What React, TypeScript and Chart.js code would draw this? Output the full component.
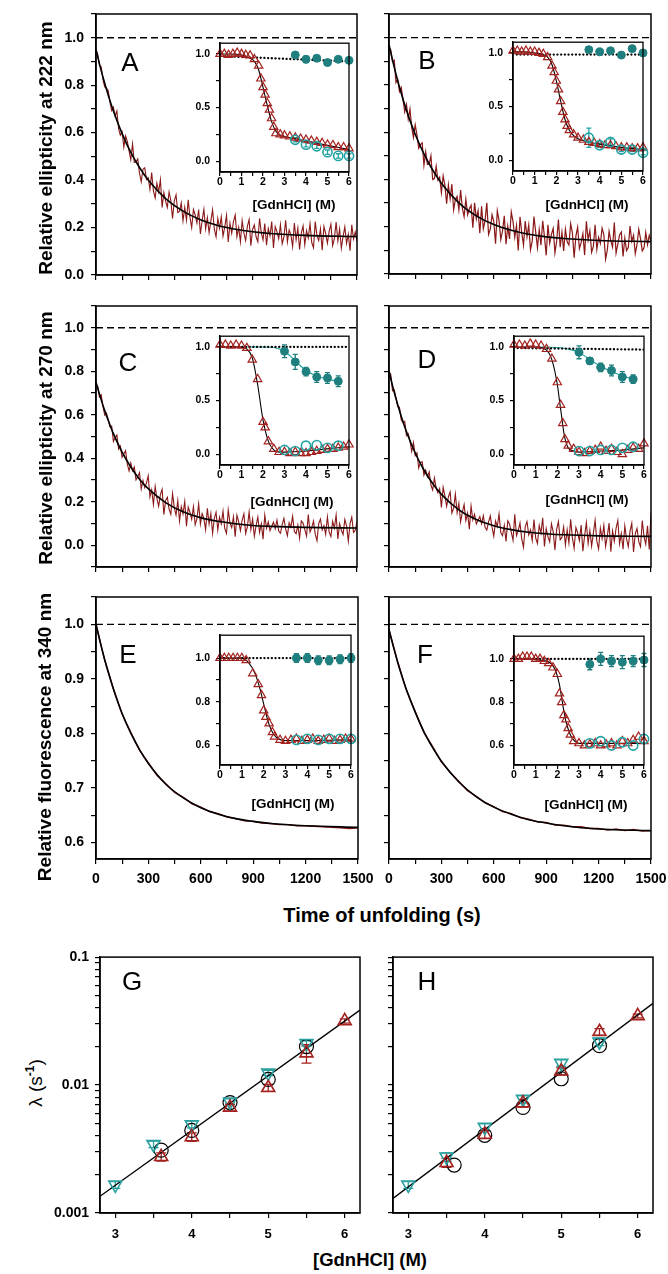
import React, { useEffect, useMemo, useRef } from 'react';
import { Chart, registerables } from 'chart.js';

Chart.register(...registerables);

const FONT = '"Liberation Sans", Arial, Helvetica, sans-serif';
Chart.defaults.font.family = FONT;

// ---------- colours ----------
const TRACE_RED = '#8a1818';
const RED_MARK = '#a3221f';
const TEAL_DARK = '#1f7f7f';
const TEAL_LIGHT = '#22a2a2';
const TEAL_G = '#2a9f9f';
const CLEAR = 'rgba(255,255,255,0)';

// ---------- ticks ----------
const MAIN_X_TICKS = [0, 150, 300, 450, 600, 750, 900, 1050, 1200, 1350, 1500];
const MAIN_X_LABELS = [0, 300, 600, 900, 1200, 1500];
const Y_TICKS_AB = [0, 0.1, 0.2, 0.3, 0.4, 0.5, 0.6, 0.7, 0.8, 0.9, 1.0, 1.1];
const Y_TICKS_CD = [-0.1, 0, 0.1, 0.2, 0.3, 0.4, 0.5, 0.6, 0.7, 0.8, 0.9, 1.0, 1.1];
const Y_LABELS_ABCD = [0, 0.2, 0.4, 0.6, 0.8, 1.0];
const Y_TICKS_EF = [0.6, 0.65, 0.7, 0.75, 0.8, 0.85, 0.9, 0.95, 1.0, 1.05];
const Y_LABELS_EF = [0.6, 0.7, 0.8, 0.9, 1.0];
const INSET_X_TICKS = [0, 0.5, 1, 1.5, 2, 2.5, 3, 3.5, 4, 4.5, 5, 5.5, 6];
const INSET_X_LABELS = [0, 1, 2, 3, 4, 5, 6];
const INSET_Y_TICKS = [0, 0.25, 0.5, 0.75, 1.0];
const INSET_Y_LABELS = [0, 0.5, 1.0];
const INSET_Y_TICKS_EF = [0.6, 0.7, 0.8, 0.9, 1.0];
const INSET_Y_LABELS_EF = [0.6, 0.8, 1.0];
const LOG_Y_TICKS = [0.001, 0.002, 0.003, 0.004, 0.005, 0.006, 0.007, 0.008, 0.009, 0.01, 0.02, 0.03, 0.04, 0.05, 0.06, 0.07, 0.08, 0.09, 0.1];
const LOG_Y_LABELS = [0.001, 0.01, 0.1];
const LOG_X_TICKS = [3, 3.5, 4, 4.5, 5, 5.5, 6];
const LOG_X_LABELS = [3, 4, 5, 6];

// ---------- kinetic traces (time of unfolding, s) ----------
const TRACE_T = Array.from({ length: 151 }, (_, i) => i * 10);
const SMOOTH_T = Array.from({ length: 31 }, (_, i) => i * 50);
const FIT_T = [0, 25, 50, 75, 100, 150, 200, 250, 300, 400, 500, 600, 700, 800, 900, 1000, 1200, 1500];

const A_TRACE = [
  0.950, 0.929, 0.885, 0.877, 0.824, 0.793, 0.788, 0.778, 0.730, 0.693,
  0.707, 0.670, 0.691, 0.616, 0.589, 0.603, 0.539, 0.586, 0.563, 0.523,
  0.485, 0.552, 0.474, 0.477, 0.489, 0.429, 0.393, 0.446, 0.452, 0.402,
  0.410, 0.361, 0.432, 0.354, 0.325, 0.387, 0.350, 0.402, 0.285, 0.348,
  0.311, 0.285, 0.350, 0.314, 0.238, 0.313, 0.338, 0.263, 0.268, 0.304,
  0.228, 0.285, 0.231, 0.317, 0.243, 0.200, 0.276, 0.253, 0.219, 0.276,
  0.173, 0.230, 0.277, 0.194, 0.242, 0.179, 0.227, 0.275, 0.193, 0.161,
  0.239, 0.197, 0.245, 0.164, 0.202, 0.251, 0.139, 0.218, 0.176, 0.225,
  0.253, 0.162, 0.201, 0.140, 0.229, 0.177, 0.146, 0.205, 0.234, 0.123,
  0.192, 0.211, 0.161, 0.140, 0.239, 0.178, 0.148, 0.217, 0.126, 0.196,
  0.165, 0.225, 0.114, 0.204, 0.183, 0.153, 0.212, 0.132, 0.161, 0.231,
  0.140, 0.190, 0.170, 0.119, 0.219, 0.148, 0.198, 0.108, 0.177, 0.207,
  0.127, 0.187, 0.156, 0.216, 0.136, 0.115, 0.225, 0.165, 0.145, 0.195,
  0.105, 0.204, 0.174, 0.134, 0.184, 0.214, 0.124, 0.153, 0.223, 0.143,
  0.194, 0.113, 0.163, 0.203, 0.133, 0.172, 0.102, 0.212, 0.152, 0.182, 0.142,
];
const A_FIT = [0.950, 0.875, 0.808, 0.747, 0.691, 0.596, 0.517, 0.453, 0.400, 0.322, 0.269, 0.233, 0.209, 0.193, 0.182, 0.175, 0.167, 0.162];

const B_TRACE = [
  0.958, 0.949, 0.899, 0.905, 0.810, 0.823, 0.772, 0.789, 0.740, 0.686,
  0.717, 0.655, 0.698, 0.621, 0.578, 0.631, 0.589, 0.532, 0.547, 0.555,
  0.460, 0.517, 0.463, 0.465, 0.500, 0.400, 0.404, 0.456, 0.397, 0.410,
  0.344, 0.415, 0.376, 0.297, 0.377, 0.318, 0.380, 0.272, 0.315, 0.328,
  0.271, 0.355, 0.278, 0.243, 0.317, 0.251, 0.276, 0.291, 0.196, 0.301,
  0.233, 0.268, 0.173, 0.286, 0.191, 0.226, 0.301, 0.167, 0.190, 0.251,
  0.222, 0.128, 0.268, 0.227, 0.146, 0.183, 0.246, 0.126, 0.202, 0.148,
  0.263, 0.222, 0.155, 0.206, 0.100, 0.242, 0.175, 0.122, 0.224, 0.157,
  0.207, 0.102, 0.140, 0.243, 0.177, 0.111, 0.188, 0.122, 0.225, 0.158,
  0.079, 0.208, 0.130, 0.168, 0.193, 0.089, 0.140, 0.230, 0.113, 0.177,
  0.098, 0.189, 0.136, 0.123, 0.213, 0.174, 0.069, 0.160, 0.198, 0.107,
  0.133, 0.171, 0.080, 0.223, 0.144, 0.183, 0.092, 0.117, 0.208, 0.104,
  0.155, 0.129, 0.194, 0.167, 0.063, 0.102, 0.180, 0.140, 0.114, 0.218,
  0.088, 0.126, 0.165, 0.178, 0.074, 0.152, 0.099, 0.112, 0.203, 0.138,
  0.164, 0.086, 0.125, 0.189, 0.150, 0.098, 0.111, 0.176, 0.124, 0.163, 0.137,
];
const B_FIT = [0.970, 0.890, 0.817, 0.752, 0.693, 0.591, 0.508, 0.440, 0.384, 0.301, 0.246, 0.209, 0.185, 0.168, 0.157, 0.150, 0.142, 0.137];

const C_TRACE = [
  0.734, 0.729, 0.682, 0.692, 0.639, 0.599, 0.608, 0.578, 0.545, 0.548,
  0.477, 0.495, 0.507, 0.442, 0.456, 0.404, 0.419, 0.435, 0.373, 0.342,
  0.378, 0.342, 0.360, 0.301, 0.315, 0.334, 0.259, 0.298, 0.265, 0.286,
  0.320, 0.222, 0.255, 0.188, 0.271, 0.215, 0.179, 0.233, 0.257, 0.141,
  0.206, 0.221, 0.166, 0.142, 0.237, 0.173, 0.139, 0.205, 0.111, 0.178,
  0.144, 0.201, 0.088, 0.175, 0.152, 0.119, 0.177, 0.094, 0.122, 0.190,
  0.097, 0.145, 0.123, 0.071, 0.170, 0.098, 0.146, 0.055, 0.123, 0.152,
  0.070, 0.129, 0.098, 0.157, 0.076, 0.054, 0.163, 0.102, 0.081, 0.130,
  0.039, 0.138, 0.107, 0.067, 0.116, 0.145, 0.054, 0.084, 0.153, 0.072,
  0.121, 0.041, 0.090, 0.130, 0.059, 0.099, 0.028, 0.138, 0.078, 0.107,
  0.067, 0.087, 0.106, 0.076, 0.116, 0.065, 0.055, 0.095, 0.124, 0.074,
  0.044, 0.104, 0.083, 0.133, 0.063, 0.053, 0.093, 0.032, 0.112, 0.102,
  0.072, 0.042, 0.141, 0.061, 0.081, 0.111, 0.051, 0.021, 0.100, 0.120,
  0.070, 0.090, 0.050, 0.130, 0.060, 0.040, 0.110, 0.079, 0.139, 0.029,
  0.099, 0.069, 0.049, 0.119, 0.089, 0.019, 0.099, 0.129, 0.059, 0.069, 0.109,
];
const C_FIT = [0.750, 0.681, 0.619, 0.564, 0.513, 0.428, 0.360, 0.304, 0.260, 0.196, 0.154, 0.127, 0.110, 0.099, 0.091, 0.087, 0.082, 0.079];

const D_TRACE = [
  0.796, 0.786, 0.710, 0.715, 0.678, 0.638, 0.635, 0.577, 0.564, 0.569,
  0.504, 0.513, 0.480, 0.431, 0.472, 0.412, 0.425, 0.355, 0.381, 0.384,
  0.322, 0.345, 0.314, 0.337, 0.277, 0.254, 0.309, 0.263, 0.241, 0.261,
  0.174, 0.266, 0.227, 0.179, 0.222, 0.245, 0.148, 0.171, 0.235, 0.149,
  0.193, 0.108, 0.152, 0.187, 0.113, 0.148, 0.074, 0.180, 0.116, 0.142,
  0.098, 0.115, 0.132, 0.099, 0.136, 0.083, 0.070, 0.107, 0.135, 0.082,
  0.042, 0.112, 0.086, 0.144, 0.058, 0.044, 0.091, 0.017, 0.112, 0.098,
  0.060, 0.023, 0.142, 0.044, 0.067, 0.102, 0.029, -0.009, 0.086, 0.109,
  0.048, 0.071, 0.022, 0.118, 0.033, 0.008, 0.091, 0.055, 0.126, -0.006,
  0.077, 0.040, 0.016, 0.099, 0.063, -0.022, 0.074, 0.109, 0.025, 0.036,
  0.084, 0.000, 0.071, 0.011, 0.119, 0.034, -0.014, 0.082, 0.057, 0.021,
  0.093, -0.027, 0.045, 0.104, 0.008, 0.068, -0.004, 0.056, 0.115, 0.019,
  -0.017, 0.079, 0.031, 0.091, -0.005, 0.042, 0.102, -0.030, 0.066, 0.018,
  0.078, 0.114, 0.006, 0.054, -0.018, 0.089, 0.029, -0.007, 0.065, 0.101,
  -0.031, 0.053, 0.077, 0.017, -0.007, 0.113, 0.041, 0.005, 0.089, -0.019, 0.150,
];
const D_FIT = [0.800, 0.718, 0.646, 0.580, 0.522, 0.424, 0.346, 0.284, 0.234, 0.163, 0.118, 0.090, 0.072, 0.060, 0.053, 0.048, 0.043, 0.041];

const E_TRACE = [
  1.000, 0.934, 0.882, 0.835, 0.801, 0.769, 0.746, 0.723, 0.708, 0.692,
  0.683, 0.671, 0.665, 0.657, 0.653, 0.647, 0.644, 0.640, 0.639, 0.636,
  0.635, 0.633, 0.633, 0.631, 0.631, 0.630, 0.629, 0.628, 0.627, 0.626, 0.627,
];
const E_FIT = [1.000, 0.966, 0.935, 0.907, 0.881, 0.836, 0.800, 0.770, 0.745, 0.707, 0.682, 0.664, 0.652, 0.644, 0.639, 0.635, 0.631, 0.628];

const F_TRACE = [
  0.990, 0.931, 0.879, 0.840, 0.802, 0.776, 0.748, 0.729, 0.712, 0.695,
  0.685, 0.673, 0.666, 0.657, 0.653, 0.646, 0.643, 0.638, 0.637, 0.632,
  0.632, 0.629, 0.629, 0.626, 0.626, 0.623, 0.625, 0.622, 0.624, 0.621, 0.622,
];
const F_FIT = [0.990, 0.959, 0.930, 0.904, 0.880, 0.839, 0.803, 0.774, 0.749, 0.711, 0.684, 0.665, 0.652, 0.642, 0.636, 0.631, 0.625, 0.622];

// ---------- equilibrium insets ([GdnHCl], M) ----------
const TEAL_X_AB = [3.5, 4, 4.5, 5, 5.5, 6];
const TEAL_X_CD = [3, 3.5, 4, 4.5, 5, 5.5];

const A_TRI_X = [0, 0.2, 0.4, 0.6, 0.8, 1.0, 1.2, 1.4, 1.6, 1.8, 1.9, 2.0, 2.1, 2.2, 2.3, 2.4, 2.5, 2.6, 2.8, 3.0, 3.25, 3.5, 3.75, 4.0, 4.25, 4.5, 4.75, 5.0, 5.25, 5.5, 5.75, 6.0];
const A_TRI_Y = [1.0, 1.0, 0.99, 1.0, 1.01, 1.0, 0.99, 0.985, 0.95, 0.89, 0.77, 0.69, 0.62, 0.54, 0.48, 0.40, 0.32, 0.26, 0.25, 0.24, 0.23, 0.22, 0.21, 0.20, 0.19, 0.18, 0.17, 0.155, 0.15, 0.13, 0.13, 0.12];
const A_IFIT_X = [0, 0.5, 1.0, 1.3, 1.6, 1.8, 2.0, 2.2, 2.4, 2.6, 2.8, 3.0, 3.5, 4, 5, 6];
const A_IFIT_Y = [1.0, 1.0, 0.99, 0.97, 0.93, 0.85, 0.69, 0.52, 0.37, 0.28, 0.245, 0.23, 0.21, 0.19, 0.15, 0.11];
const A_DOT_Y = [0.98, 0.93];
const A_FILLED_Y = [0.99, 0.95, 0.96, 0.92, 0.95, 0.94];
const A_FILLED_ERR = [0.02, 0.03, 0.02, 0.01, 0.02, 0.02];
const A_OPEN_Y = [0.20, 0.155, 0.14, 0.085, 0.05, 0.05];
const A_OPEN_ERR = [0.02, 0.02, 0.02, 0.02, 0.02, 0.02];

const B_TRI_X = A_TRI_X;
const B_TRI_Y = [1.02, 1.02, 1.01, 1.02, 1.01, 1.01, 1.0, 0.99, 0.96, 0.88, 0.82, 0.74, 0.66, 0.55, 0.45, 0.38, 0.32, 0.28, 0.24, 0.21, 0.19, 0.17, 0.16, 0.15, 0.14, 0.14, 0.13, 0.12, 0.12, 0.11, 0.11, 0.12];
const B_IFIT_X = [0, 0.5, 1.0, 1.3, 1.6, 1.8, 2.0, 2.2, 2.4, 2.6, 2.8, 3.0, 3.5, 4, 5, 6];
const B_IFIT_Y = [1.01, 1.01, 1.0, 0.99, 0.96, 0.89, 0.74, 0.55, 0.38, 0.28, 0.23, 0.20, 0.17, 0.15, 0.12, 0.10];
const B_DOT_Y = [0.985, 0.985];
const B_FILLED_Y = [1.03, 1.01, 1.02, 0.98, 1.04, 1.0];
const B_FILLED_ERR = [0.01, 0.01, 0.01, 0.01, 0.01, 0.01];
const B_OPEN_Y = [0.21, 0.14, 0.17, 0.10, 0.10, 0.07];
const B_OPEN_ERR = [0.09, 0.02, 0.03, 0.02, 0.02, 0.02];

const C_TRI_X = [0, 0.25, 0.5, 0.75, 1.0, 1.25, 1.5, 1.75, 2.0, 2.1, 2.25, 2.5, 2.75, 3.0, 3.25, 3.5, 3.75, 4.0, 4.25, 4.5, 4.75, 5.0, 5.25, 5.5, 5.75, 6.0];
const C_TRI_Y = [1.02, 1.02, 1.01, 1.02, 1.01, 0.99, 0.88, 0.70, 0.30, 0.25, 0.12, 0.05, 0.02, 0.02, 0.01, 0.02, 0.01, 0.01, 0.02, 0.03, 0.04, 0.05, 0.05, 0.06, 0.07, 0.09];
const C_IFIT_X = [0, 0.5, 1.0, 1.25, 1.5, 1.75, 2.0, 2.25, 2.5, 2.75, 3.0, 4.0, 5.0, 6.0];
const C_IFIT_Y = [1.0, 1.0, 1.0, 0.98, 0.90, 0.65, 0.32, 0.12, 0.04, 0.02, 0.02, 0.03, 0.05, 0.07];
const C_DOT_Y = [1.0, 1.0];
const C_FILLED_Y = [0.96, 0.86, 0.77, 0.72, 0.71, 0.68];
const C_FILLED_ERR = [0.06, 0.07, 0.04, 0.05, 0.05, 0.05];
const C_OPEN_Y = [0.04, 0.03, 0.08, 0.085, 0.06, 0.08];
const C_TEAL_FIT_X = [1.0, 2.0, 2.5, 3.0, 3.5, 4.0, 4.5, 5.0, 5.5];
const C_TEAL_FIT_Y = [1.0, 1.0, 0.995, 0.96, 0.87, 0.78, 0.73, 0.70, 0.68];

const D_TRI_X = [0, 0.25, 0.5, 0.75, 1.0, 1.25, 1.5, 1.75, 2.0, 2.15, 2.25, 2.35, 2.5, 2.75, 3.0, 3.25, 3.5, 3.75, 4.0, 4.25, 4.5, 4.75, 5.0, 5.25, 5.5, 5.75, 6.0];
const D_TRI_Y = [1.02, 1.02, 1.01, 1.03, 1.02, 1.01, 0.98, 0.89, 0.67, 0.46, 0.29, 0.14, 0.08, 0.05, 0.02, 0.01, 0.03, 0.04, 0.07, 0.03, 0.05, 0.02, 0.00, 0.04, 0.06, 0.05, 0.10];
const D_IFIT_X = [0, 0.5, 1.0, 1.5, 1.75, 2.0, 2.1, 2.2, 2.3, 2.4, 2.5, 2.75, 3.0, 4.0, 5.0, 6.0];
const D_IFIT_Y = [1.0, 1.0, 1.0, 0.97, 0.88, 0.65, 0.50, 0.35, 0.20, 0.11, 0.06, 0.03, 0.02, 0.03, 0.04, 0.06];
const D_DOT_Y = [0.99, 0.975];
const D_FILLED_Y = [0.95, 0.87, 0.81, 0.78, 0.72, 0.70];
const D_FILLED_ERR = [0.06, 0.03, 0.04, 0.05, 0.05, 0.04];
const D_OPEN_Y = [0.03, 0.03, 0.04, 0.04, 0.06, 0.07];
const D_TEAL_FIT_X = [1.0, 2.0, 2.5, 3.0, 3.5, 4.0, 4.5, 5.0, 5.5];
const D_TEAL_FIT_Y = [1.0, 0.995, 0.98, 0.95, 0.88, 0.82, 0.77, 0.73, 0.70];

const E_TRI_X = [0, 0.2, 0.4, 0.6, 0.8, 1.0, 1.2, 1.5, 1.75, 1.9, 2.0, 2.1, 2.25, 2.4, 2.5, 2.75, 3.0, 3.25, 3.5, 3.75, 4.0, 4.25, 4.5, 4.75, 5.0, 5.25, 5.5, 5.75, 6.0];
const E_TRI_Y = [1.0, 1.0, 1.0, 1.0, 1.0, 1.0, 0.99, 0.93, 0.88, 0.83, 0.76, 0.73, 0.70, 0.66, 0.64, 0.625, 0.62, 0.625, 0.63, 0.62, 0.625, 0.63, 0.62, 0.625, 0.63, 0.62, 0.625, 0.63, 0.63];
const E_IFIT_X = [0, 1.0, 1.3, 1.6, 1.8, 2.0, 2.2, 2.4, 2.6, 2.8, 3.0, 6.0];
const E_IFIT_Y = [1.0, 1.0, 0.98, 0.93, 0.87, 0.79, 0.71, 0.66, 0.635, 0.625, 0.622, 0.625];
const E_DOT_Y = [1.0, 1.0];
const E_FILLED_Y = [1.0, 1.0, 0.99, 0.99, 0.995, 1.0];
const E_FILLED_ERR = [0.02, 0.02, 0.02, 0.02, 0.02, 0.02];
const E_OPEN_Y = [0.625, 0.63, 0.625, 0.63, 0.63, 0.63];

const F_TRI_X = [0, 0.2, 0.4, 0.6, 0.8, 1.0, 1.2, 1.4, 1.6, 1.8, 2.0, 2.1, 2.2, 2.3, 2.4, 2.5, 2.6, 2.75, 3.0, 3.25, 3.5, 3.75, 4.0, 4.25, 4.5, 4.75, 5.0, 5.25, 5.5, 5.75, 6.0];
const F_TRI_Y = [1.0, 1.0, 1.01, 1.01, 1.01, 1.0, 1.0, 0.99, 0.98, 0.96, 0.93, 0.84, 0.80, 0.74, 0.72, 0.68, 0.65, 0.62, 0.61, 0.60, 0.605, 0.61, 0.60, 0.605, 0.61, 0.60, 0.62, 0.61, 0.625, 0.64, 0.62];
const F_IFIT_X = [0, 1.5, 1.9, 2.1, 2.2, 2.3, 2.4, 2.6, 2.8, 3.0, 6.0];
const F_IFIT_Y = [1.0, 0.99, 0.95, 0.88, 0.82, 0.76, 0.71, 0.65, 0.62, 0.61, 0.61];
const F_DOT_Y = [1.0, 1.0];
const F_FILLED_Y = [0.975, 1.0, 0.99, 0.985, 0.99, 0.995];
const F_FILLED_ERR = [0.025, 0.03, 0.025, 0.03, 0.025, 0.03];
const F_OPEN_Y = [0.61, 0.62, 0.60, 0.615, 0.60, 0.63];

// ---------- rate constants (λ, s^-1) ----------
const G_DOWN_X = [3.0, 3.5, 4.0, 4.5, 5.0, 5.5];
const G_DOWN_Y = [0.00166, 0.00344, 0.00492, 0.0074, 0.01245, 0.0212];
const G_DOWN_ERR = [0.0001, 0.0002, 0.0003, 0.0004, 0.0006, 0.001];
const G_UP_X = [3.6, 4.0, 4.5, 5.0, 5.5, 6.0];
const G_UP_Y = [0.00275, 0.00393, 0.00668, 0.00953, 0.01775, 0.0317];
const G_UP_ERR = [0.0002, 0.0003, 0.0004, 0.0006, 0.0029, 0.0012];
const G_CIRC_X = [3.6, 4.0, 4.5, 5.0, 5.5];
const G_CIRC_Y = [0.0031, 0.00442, 0.0073, 0.01106, 0.020];
const G_FIT_X = [2.8, 6.2];
const G_FIT_Y = [0.00135, 0.0385];

const H_DOWN_X = [3.0, 3.5, 4.0, 4.5, 5.0, 5.5];
const H_DOWN_Y = [0.00166, 0.00275, 0.00469, 0.00776, 0.01486, 0.0218];
const H_DOWN_ERR = [0.0001, 0.0002, 0.0003, 0.0005, 0.0009, 0.0015];
const H_UP_X = [3.5, 4.0, 4.5, 5.0, 5.5, 6.0];
const H_UP_Y = [0.00247, 0.00411, 0.00722, 0.01282, 0.0261, 0.0347];
const H_UP_ERR = [0.0002, 0.0003, 0.0005, 0.0008, 0.0015, 0.0012];
const H_CIRC_X = [3.6, 4.0, 4.5, 5.0, 5.5];
const H_CIRC_Y = [0.00237, 0.00405, 0.00668, 0.0112, 0.0203];
const H_FIT_X = [2.8, 6.2];
const H_FIT_Y = [0.0013, 0.0435];

// ---------- helpers ----------
type Box = { L: number; T: number; R: number; B: number };
type Margin = { l: number; t: number; r: number; b: number };

const MAIN_M: Margin = { l: 45, t: 4, r: 16, b: 36 };
const INSET_M: Margin = { l: 32, t: 5, r: 8, b: 20 };
const LOG_M: Margin = { l: 52, t: 6, r: 12, b: 34 };

const near = (list: number[], v: number) => list.some((a) => Math.abs(a - v) < 1e-7);
const pts = (xs: number[], ys: number[]) => xs.map((x, i) => ({ x, y: ys[i] }));

function axis(o: any): any {
  return {
    type: o.type || 'linear',
    position: o.horizontal ? 'bottom' : 'left',
    min: o.min,
    max: o.max,
    afterBuildTicks: (s: any) => {
      s.ticks = o.ticks.map((v: number) => ({ value: v }));
    },
    afterFit: (s: any) => {
      if (o.horizontal) s.height = o.size;
      else s.width = o.size;
      s.paddingLeft = 0;
      s.paddingRight = 0;
      s.paddingTop = 0;
      s.paddingBottom = 0;
    },
    grid: {
      display: true,
      drawOnChartArea: false,
      drawTicks: true,
      tickLength: o.tl,
      color: '#000',
      tickColor: '#000',
      lineWidth: 1.2,
      tickWidth: 1.2,
    },
    border: { display: true, color: '#000', width: 1.5 },
    ticks: {
      autoSkip: false,
      maxRotation: 0,
      minRotation: 0,
      padding: o.pad,
      color: '#000',
      font: { family: FONT, size: o.font, weight: 'bold' },
      callback: (v: any) => (o.show && near(o.labels, Number(v)) ? o.fmt(Number(v)) : ''),
    },
  };
}

const line = (xs: number[], ys: number[], color: string, width: number, extra: any = {}) => ({
  data: pts(xs, ys),
  showLine: true,
  borderColor: color,
  borderWidth: width,
  pointRadius: 0,
  pointHoverRadius: 0,
  fill: false,
  ...extra,
});

const marks = (xs: number[], ys: number[], style: string, r: number, stroke: string, fill: string, bw: number, rot = 0) => ({
  data: pts(xs, ys),
  showLine: false,
  pointStyle: style,
  pointRadius: r,
  pointHoverRadius: r,
  borderColor: stroke,
  backgroundColor: fill,
  pointBorderColor: stroke,
  pointBackgroundColor: fill,
  pointBorderWidth: bw,
  pointRotation: rot,
  clip: false,
});

const bars = (xs: number[], ys: number[], lo: number[], hi: number[], color: string, cap: number) =>
  xs.map((x, i) => ({ x, y: ys[i], lo: lo[i], hi: hi[i], color, cap }));

const framePlugin = {
  id: 'frame',
  afterDraw(chart: any, _a: any, opts: any) {
    const { ctx, chartArea: a } = chart;
    ctx.save();
    ctx.strokeStyle = '#000';
    ctx.lineWidth = opts.width || 1.5;
    ctx.strokeRect(a.left, a.top, a.right - a.left, a.bottom - a.top);
    ctx.restore();
  },
};

const errPlugin = {
  id: 'errbars',
  beforeDatasetsDraw(chart: any, _a: any, opts: any) {
    const items = (opts && opts.items) || [];
    const { ctx } = chart;
    const xs = chart.scales.x;
    const ys = chart.scales.y;
    ctx.save();
    items.forEach((it: any) => {
      const px = xs.getPixelForValue(it.x);
      const y1 = ys.getPixelForValue(it.y - it.lo);
      const y2 = ys.getPixelForValue(it.y + it.hi);
      ctx.strokeStyle = it.color;
      ctx.lineWidth = 1.3;
      ctx.beginPath();
      ctx.moveTo(px, y1);
      ctx.lineTo(px, y2);
      ctx.moveTo(px - it.cap, y1);
      ctx.lineTo(px + it.cap, y1);
      ctx.moveTo(px - it.cap, y2);
      ctx.lineTo(px + it.cap, y2);
      ctx.stroke();
    });
    ctx.restore();
  },
};

function mainSpec(p: any) {
  return {
    box: p.box,
    m: MAIN_M,
    frame: 1.5,
    err: [],
    datasets: [
      line([0, 1500], [1, 1], '#000', 1.3, { borderDash: [7, 4] }),
      line(FIT_T, p.fit, '#000', 1.6, { cubicInterpolationMode: 'monotone' }),
      line(p.traceT, p.trace, TRACE_RED, p.tw),
    ],
    x: axis({ min: 0, max: 1500, ticks: MAIN_X_TICKS, labels: MAIN_X_LABELS, fmt: (v: number) => String(Math.round(v)), horizontal: true, size: MAIN_M.b, font: 14, tl: 5, pad: 7, show: p.showX }),
    y: axis({ min: p.ymin, max: p.ymax, ticks: p.yticks, labels: p.ylabels, fmt: (v: number) => v.toFixed(1), horizontal: false, size: MAIN_M.l, font: 14, tl: 5, pad: 7, show: p.showY }),
  };
}

function insetSpec(p: any) {
  const tx = p.tealX;
  const err = [
    ...bars(tx, p.fY, p.fErr, p.fErr, TEAL_DARK, 2.5),
    ...(p.oErr ? bars(tx, p.oY, p.oErr, p.oErr, TEAL_LIGHT, 2.5) : []),
  ];
  const ds: any[] = [
    marks(tx, p.oY, 'circle', 4.6, TEAL_LIGHT, CLEAR, 1.6),
    marks(tx, p.fY, 'circle', 4, TEAL_DARK, TEAL_DARK, 1),
    marks(p.triX, p.triY, 'triangle', 4.8, RED_MARK, CLEAR, 1.2),
    line(p.fitX, p.fitY, '#000', 1.1, { cubicInterpolationMode: 'monotone' }),
    line([0, 6], p.dotY, '#000', 2.3, { borderDash: [0.1, 3.6], borderCapStyle: 'round' }),
  ];
  if (p.tealFitX) ds.push(line(p.tealFitX, p.tealFitY, TEAL_LIGHT, 1.1, { cubicInterpolationMode: 'monotone' }));
  return {
    box: p.box,
    m: INSET_M,
    frame: 1.3,
    err,
    datasets: ds,
    x: axis({ min: 0, max: 6, ticks: INSET_X_TICKS, labels: INSET_X_LABELS, fmt: (v: number) => String(Math.round(v)), horizontal: true, size: INSET_M.b, font: 10.5, tl: 4, pad: 0, show: true }),
    y: axis({ min: p.ymin, max: p.ymax, ticks: p.yticks, labels: p.ylabels, fmt: (v: number) => v.toFixed(1), horizontal: false, size: INSET_M.l, font: 10.5, tl: 4, pad: 6, show: true }),
  };
}

function logSpec(p: any) {
  return {
    box: p.box,
    m: LOG_M,
    frame: 1.5,
    err: [
      ...bars(p.downX, p.downY, p.downErr, p.downErr, TEAL_G, 5),
      ...bars(p.upX, p.upY, p.upErr, p.upErr, RED_MARK, 5),
    ],
    datasets: [
      marks(p.upX, p.upY, 'triangle', 7.5, RED_MARK, CLEAR, 1.6),
      marks(p.downX, p.downY, 'triangle', 7.5, TEAL_G, CLEAR, 1.6, 180),
      marks(p.cX, p.cY, 'circle', 7, '#000', CLEAR, 1.2),
      line(p.fitX, p.fitY, '#000', 1.3),
    ],
    x: axis({ min: 2.8, max: 6.2, ticks: LOG_X_TICKS, labels: LOG_X_LABELS, fmt: (v: number) => String(Math.round(v)), horizontal: true, size: LOG_M.b, font: 13, tl: 5, pad: 9, show: true }),
    y: axis({ type: 'logarithmic', min: 0.001, max: 0.1, ticks: LOG_Y_TICKS, labels: LOG_Y_LABELS, fmt: (v: number) => String(v), horizontal: false, size: LOG_M.l, font: 14, tl: 5, pad: 6, show: p.showY }),
  };
}

function buildSpecs() {
  return [
    mainSpec({ box: { L: 96, T: 14, R: 357, B: 275 }, traceT: TRACE_T, trace: A_TRACE, fit: A_FIT, tw: 1.1, ymin: 0, ymax: 1.1, yticks: Y_TICKS_AB, ylabels: Y_LABELS_ABCD, showY: true, showX: false }),
    mainSpec({ box: { L: 389, T: 14, R: 651, B: 274 }, traceT: TRACE_T, trace: B_TRACE, fit: B_FIT, tw: 1.2, ymin: 0, ymax: 1.1, yticks: Y_TICKS_AB, ylabels: Y_LABELS_ABCD, showY: false, showX: false }),
    mainSpec({ box: { L: 96, T: 306, R: 357, B: 567 }, traceT: TRACE_T, trace: C_TRACE, fit: C_FIT, tw: 1.1, ymin: -0.1, ymax: 1.1, yticks: Y_TICKS_CD, ylabels: Y_LABELS_ABCD, showY: true, showX: false }),
    mainSpec({ box: { L: 389, T: 306, R: 651, B: 567 }, traceT: TRACE_T, trace: D_TRACE, fit: D_FIT, tw: 1.1, ymin: -0.1, ymax: 1.1, yticks: Y_TICKS_CD, ylabels: Y_LABELS_ABCD, showY: false, showX: false }),
    mainSpec({ box: { L: 96, T: 597, R: 358, B: 859 }, traceT: SMOOTH_T, trace: E_TRACE, fit: E_FIT, tw: 1.4, ymin: 0.57, ymax: 1.05, yticks: Y_TICKS_EF, ylabels: Y_LABELS_EF, showY: true, showX: true }),
    mainSpec({ box: { L: 389, T: 597, R: 651, B: 859 }, traceT: SMOOTH_T, trace: F_TRACE, fit: F_FIT, tw: 1.4, ymin: 0.57, ymax: 1.05, yticks: Y_TICKS_EF, ylabels: Y_LABELS_EF, showY: false, showX: true }),
    insetSpec({ box: { L: 220, T: 42, R: 349, B: 172 }, tealX: TEAL_X_AB, triX: A_TRI_X, triY: A_TRI_Y, fitX: A_IFIT_X, fitY: A_IFIT_Y, dotY: A_DOT_Y, fY: A_FILLED_Y, fErr: A_FILLED_ERR, oY: A_OPEN_Y, oErr: A_OPEN_ERR, ymin: -0.1, ymax: 1.1, yticks: INSET_Y_TICKS, ylabels: INSET_Y_LABELS }),
    insetSpec({ box: { L: 513, T: 41, R: 643, B: 171 }, tealX: TEAL_X_AB, triX: B_TRI_X, triY: B_TRI_Y, fitX: B_IFIT_X, fitY: B_IFIT_Y, dotY: B_DOT_Y, fY: B_FILLED_Y, fErr: B_FILLED_ERR, oY: B_OPEN_Y, oErr: B_OPEN_ERR, ymin: -0.1, ymax: 1.1, yticks: INSET_Y_TICKS, ylabels: INSET_Y_LABELS }),
    insetSpec({ box: { L: 220, T: 335, R: 349, B: 465 }, tealX: TEAL_X_CD, triX: C_TRI_X, triY: C_TRI_Y, fitX: C_IFIT_X, fitY: C_IFIT_Y, dotY: C_DOT_Y, fY: C_FILLED_Y, fErr: C_FILLED_ERR, oY: C_OPEN_Y, tealFitX: C_TEAL_FIT_X, tealFitY: C_TEAL_FIT_Y, ymin: -0.1, ymax: 1.1, yticks: INSET_Y_TICKS, ylabels: INSET_Y_LABELS }),
    insetSpec({ box: { L: 514, T: 335, R: 644, B: 465 }, tealX: TEAL_X_CD, triX: D_TRI_X, triY: D_TRI_Y, fitX: D_IFIT_X, fitY: D_IFIT_Y, dotY: D_DOT_Y, fY: D_FILLED_Y, fErr: D_FILLED_ERR, oY: D_OPEN_Y, tealFitX: D_TEAL_FIT_X, tealFitY: D_TEAL_FIT_Y, ymin: -0.1, ymax: 1.1, yticks: INSET_Y_TICKS, ylabels: INSET_Y_LABELS }),
    insetSpec({ box: { L: 220, T: 634, R: 351, B: 765 }, tealX: TEAL_X_AB, triX: E_TRI_X, triY: E_TRI_Y, fitX: E_IFIT_X, fitY: E_IFIT_Y, dotY: E_DOT_Y, fY: E_FILLED_Y, fErr: E_FILLED_ERR, oY: E_OPEN_Y, ymin: 0.51, ymax: 1.105, yticks: INSET_Y_TICKS_EF, ylabels: INSET_Y_LABELS_EF }),
    insetSpec({ box: { L: 514, T: 635, R: 644, B: 765 }, tealX: TEAL_X_AB, triX: F_TRI_X, triY: F_TRI_Y, fitX: F_IFIT_X, fitY: F_IFIT_Y, dotY: F_DOT_Y, fY: F_FILLED_Y, fErr: F_FILLED_ERR, oY: F_OPEN_Y, ymin: 0.51, ymax: 1.105, yticks: INSET_Y_TICKS_EF, ylabels: INSET_Y_LABELS_EF }),
    logSpec({ box: { L: 100, T: 954, R: 360, B: 1213 }, downX: G_DOWN_X, downY: G_DOWN_Y, downErr: G_DOWN_ERR, upX: G_UP_X, upY: G_UP_Y, upErr: G_UP_ERR, cX: G_CIRC_X, cY: G_CIRC_Y, fitX: G_FIT_X, fitY: G_FIT_Y, showY: true }),
    logSpec({ box: { L: 393, T: 954, R: 653, B: 1213 }, downX: H_DOWN_X, downY: H_DOWN_Y, downErr: H_DOWN_ERR, upX: H_UP_X, upY: H_UP_Y, upErr: H_UP_ERR, cX: H_CIRC_X, cY: H_CIRC_Y, fitX: H_FIT_X, fitY: H_FIT_Y, showY: false }),
  ];
}

function geom(s: any) {
  const { box, m } = s;
  return {
    left: box.L - m.l,
    top: box.T - m.t,
    w: box.R - box.L + m.l + m.r,
    h: box.B - box.T + m.t + m.b,
  };
}

function makeChart(canvas: HTMLCanvasElement, s: any) {
  return new Chart(canvas, {
    type: 'scatter',
    data: { datasets: s.datasets },
    options: {
      responsive: false,
      maintainAspectRatio: false,
      animation: false,
      devicePixelRatio: 1,
      events: [],
      layout: { padding: { left: 0, top: s.m.t, right: s.m.r, bottom: 0 } },
      plugins: {
        legend: { display: false },
        tooltip: { enabled: false },
        frame: { width: s.frame },
        errbars: { items: s.err },
      },
      scales: { x: s.x, y: s.y },
    },
    plugins: [framePlugin, errPlugin],
  } as any);
}

const TEXTS = [
  { s: 'A', x: 130, y: 62, f: 26, w: 'normal' },
  { s: 'B', x: 427, y: 60, f: 26, w: 'normal' },
  { s: 'C', x: 128, y: 362, f: 26, w: 'normal' },
  { s: 'D', x: 427, y: 359, f: 26, w: 'normal' },
  { s: 'E', x: 128, y: 654, f: 26, w: 'normal' },
  { s: 'F', x: 425, y: 654, f: 26, w: 'normal' },
  { s: 'G', x: 132, y: 981, f: 26, w: 'normal' },
  { s: 'H', x: 427, y: 981, f: 26, w: 'normal' },
  { s: 'Relative ellipticity at 222 nm', x: 45, y: 148, f: 19, w: 'bold', r: true },
  { s: 'Relative ellipticity at 270 nm', x: 45, y: 438, f: 19, w: 'bold', r: true },
  { s: 'Relative fluorescence at 340 nm', x: 44, y: 737, f: 19, w: 'bold', r: true },
  { s: 'Time of unfolding (s)', x: 382, y: 915, f: 20, w: 'bold' },
  { s: '[GdnHCl] (M)', x: 370, y: 1260, f: 18.5, w: 'bold' },
  { s: '[GdnHCl] (M)', x: 294, y: 205, f: 13.5, w: 'bold' },
  { s: '[GdnHCl] (M)', x: 587, y: 205, f: 13.5, w: 'bold' },
  { s: '[GdnHCl] (M)', x: 292, y: 502, f: 13.5, w: 'bold' },
  { s: '[GdnHCl] (M)', x: 587, y: 500, f: 13.5, w: 'bold' },
  { s: '[GdnHCl] (M)', x: 293, y: 804, f: 13.5, w: 'bold' },
  { s: '[GdnHCl] (M)', x: 586, y: 805, f: 13.5, w: 'bold' },
];

export default function App() {
  const specs = useMemo(() => buildSpecs(), []);
  const refs = useRef<(HTMLCanvasElement | null)[]>([]);

  useEffect(() => {
    const charts = specs.map((s, i) => makeChart(refs.current[i] as HTMLCanvasElement, s));
    return () => charts.forEach((c) => c.destroy());
  }, [specs]);

  const textStyle = (t: any): React.CSSProperties => ({
    position: 'absolute',
    left: t.x,
    top: t.y,
    transform: 'translate(-50%, -50%)' + (t.r ? ' rotate(-90deg)' : ''),
    whiteSpace: 'nowrap',
    fontFamily: FONT,
    fontSize: t.f,
    fontWeight: t.w,
    lineHeight: 1,
    color: '#000',
  });

  return (
    <div style={{ position: 'absolute', left: 0, top: 0, width: 668, height: 1274, background: '#fff', overflow: 'hidden' }}>
      {specs.map((s, i) => {
        const g = geom(s);
        return (
          <canvas
            key={i}
            ref={(el) => {
              refs.current[i] = el;
            }}
            width={g.w}
            height={g.h}
            style={{ position: 'absolute', left: g.left, top: g.top, width: g.w, height: g.h }}
          />
        );
      })}
      {TEXTS.map((t, i) => (
        <div key={'t' + i} style={textStyle(t)}>
          {t.s}
        </div>
      ))}
      <div style={textStyle({ x: 35, y: 1083, f: 19, w: 'normal', r: true })}>
        λ (s<sup style={{ fontSize: 12, fontWeight: 'bold', verticalAlign: 'super', lineHeight: 0 }}>-1</sup>)
      </div>
    </div>
  );
}
